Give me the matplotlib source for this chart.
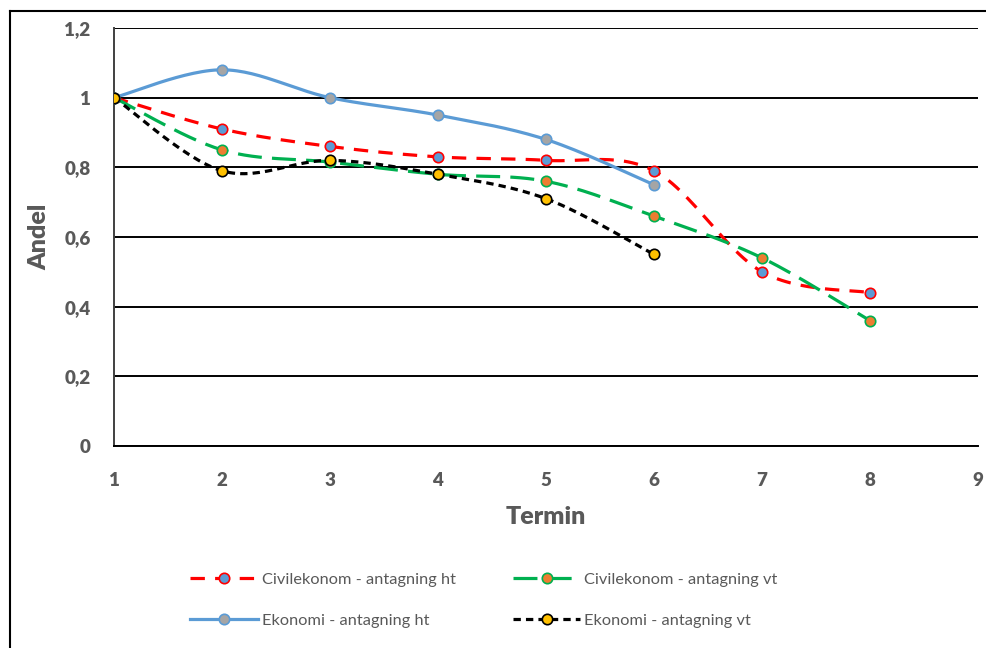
import numpy as np
import matplotlib.pyplot as plt
from matplotlib.lines import Line2D
from matplotlib.ticker import FuncFormatter, MultipleLocator

plt.rcParams['font.family'] = ['Lato', 'DejaVu Sans']

#%% data
termin = [1, 2, 3, 4, 5, 6, 7, 8]
civ_ht = [1.0, 0.91, 0.86, 0.83, 0.82, 0.79, 0.50, 0.44]
civ_vt = [1.0, 0.85, 0.815, 0.78, 0.76, 0.66, 0.54, 0.36]
ek_ht = [1.0, 1.08, 1.0, 0.95, 0.88, 0.75]
ek_vt = [1.0, 0.79, 0.82, 0.78, 0.71, 0.55]

#%%
def utjamna(x, y, n=30):
    '''Excel-liknande utjamning (Catmull-Rom som Bezier-kurvor).'''
    x = np.asarray(x, float)
    y = np.asarray(y, float)
    px = np.concatenate([[x[0]], x, [x[-1]]])
    py = np.concatenate([[y[0]], y, [y[-1]]])
    xs, ys = [], []
    t = np.linspace(0, 1, n)
    for i in range(1, len(px) - 2):
        p0 = np.array([px[i], py[i]])
        p3 = np.array([px[i + 1], py[i + 1]])
        c1 = p0 + (p3 - np.array([px[i - 1], py[i - 1]])) / 6
        c2 = p3 - (np.array([px[i + 2], py[i + 2]]) - p0) / 6
        b = ((1 - t) ** 3)[:, None] * p0 + (3 * (1 - t) ** 2 * t)[:, None] * c1 \
            + (3 * (1 - t) * t ** 2)[:, None] * c2 + (t ** 3)[:, None] * p3
        xs.extend(b[:, 0])
        ys.extend(b[:, 1])
    return xs, ys

#%%
grå = '#595959'
fig = plt.figure(figsize=(9.86, 6.48), dpi=100)
ax = fig.add_axes([114/986, 1 - 446/648, (978 - 114)/986, (446 - 28)/648])

serier = [
    (termin, civ_ht, 'Civilekonom - antagning ht', '#FF0000', (0, (4.5, 3.2)), '#5B9BD5', '#FF0000'),
    (termin, civ_vt, 'Civilekonom - antagning vt', '#00B050', (0, (7.5, 3.2)), '#ED7D31', '#00B050'),
    (termin[:6], ek_ht, 'Ekonomi - antagning ht', '#5B9BD5', '-', '#A5A5A5', '#5B9BD5'),
    (termin[:6], ek_vt, 'Ekonomi - antagning vt', '#000000', (0, (2.3, 1.6)), '#FFC000', '#000000'),
]

handtag = []
for x, y, namn, farg, stil, mfarg, kant in serier:
    sx, sy = utjamna(x, y)
    ax.plot(sx, sy, color=farg, linestyle=stil, lw=2.3, zorder=3)
    ax.plot(x, y, linestyle='none', marker='o', ms=7.5, mfc=mfarg, mec=kant,
            mew=1.2, zorder=4)
    handtag.append(Line2D([], [], color=farg, linestyle=stil, lw=2.3, marker='o',
                          ms=7.5, mfc=mfarg, mec=kant, mew=1.2, label=namn))

ax.set_xlim(1, 9)
ax.set_ylim(0, 1.2)
ax.yaxis.set_major_locator(MultipleLocator(0.2))
ax.xaxis.set_major_locator(MultipleLocator(1))
ax.yaxis.set_major_formatter(FuncFormatter(lambda v, p: f'{v:.1f}'.rstrip('0').rstrip('.').replace('.', ',') if v != 0 else '0'))
ax.grid(axis='y', color='black', lw=1.4)
ax.set_axisbelow(True)
for s in ['top', 'right']:
    ax.spines[s].set_visible(False)
ax.spines['left'].set_color('#404040')
ax.spines['bottom'].set_color('black')
ax.spines['left'].set_linewidth(1.4)
ax.spines['bottom'].set_linewidth(1.4)
ax.tick_params(length=0, labelsize=13.5, labelcolor=grå)
ax.tick_params(axis='x', pad=19)
ax.tick_params(axis='y', pad=17)
for lab in ax.get_xticklabels() + ax.get_yticklabels():
    lab.set_fontweight('heavy')
ax.set_xlabel('Termin', fontsize=18, fontweight='heavy', color=grå, labelpad=12)
ax.set_ylabel('Andel', fontsize=18, fontweight='heavy', color=grå, labelpad=10)

# radvis ordning som i originalet
ordning = [handtag[0], handtag[2], handtag[1], handtag[3]]
fig.legend(handles=ordning, ncol=2, loc='center', bbox_to_anchor=(484/986, 1 - 600/648),
           frameon=False, fontsize=11.8, labelcolor=grå, handlelength=4.1,
           columnspacing=3.5, handletextpad=0.25, labelspacing=1.6)

# ram runt diagrammet
fig.add_artist(Line2D([10/986, 10/986], [0, 1 - 11/648], color='black', lw=1.5))
fig.add_artist(Line2D([10/986, 1], [1 - 11/648, 1 - 11/648], color='black', lw=1.5))

fig.savefig('out.png', dpi=100)
